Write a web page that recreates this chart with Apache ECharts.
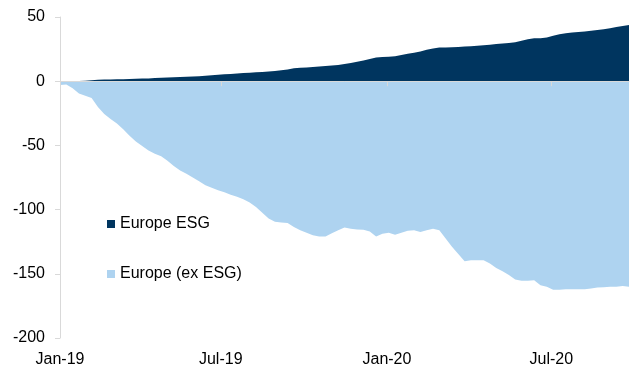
<!DOCTYPE html>
<html>
<head>
<meta charset="utf-8">
<script src="https://cdn.jsdelivr.net/npm/echarts@6/dist/echarts.min.js"></script>
<style>
  html, body { margin: 0; padding: 0; background: #fff; }
  #chart { width: 631px; height: 368px; }
</style>
</head>
<body>
<div id="chart"></div>
<script>
// Weekly observations, first Friday of 2019 onwards
const firstWeek = '2019-01-04';
const weekCount = 91;

// Cumulative flows (EUR bn)
const europeEsg = [
  0, 0, 0, 0.2, 0.4, 0.8, 1.2, 1.3, 1.4, 1.5,
  1.6, 1.8, 1.9, 2.1, 2.2, 2.4, 2.6, 2.9, 3.1, 3.3,
  3.5, 3.7, 3.9, 4.2, 4.6, 5.0, 5.4, 5.7, 6.0, 6.3,
  6.6, 6.9, 7.2, 7.5, 7.9, 8.5, 9.2, 10.0, 10.4, 10.7,
  11.0, 11.4, 11.8, 12.2, 12.7, 13.3, 14.2, 15.2, 16.2, 17.3,
  18.4, 18.8, 19.1, 19.5, 20.4, 21.3, 22.2, 23.2, 24.4, 25.5,
  26.2, 26.3, 26.5, 26.7, 27.0, 27.3, 27.6, 28.0, 28.4, 28.9,
  29.4, 29.8, 30.3, 31.5, 32.7, 33.4, 33.5, 34.0, 35.3, 36.5,
  37.4, 37.9, 38.4, 38.8, 39.3, 39.9, 40.5, 41.3, 42.2, 43.0,
  43.7
];

const europeExEsg = [
  -3, -2.5, -5.5, -9.5, -11.4, -13, -20, -25.5, -29.5, -33,
  -37.5, -42.5, -47, -50.5, -54, -56.5, -58.5, -62, -66, -69.5,
  -72, -75, -78, -81, -83, -85, -86.5, -88.5, -90, -92,
  -94.5, -98, -102.5, -107, -109.5, -110, -110.5, -113.5, -116, -118,
  -120, -121, -121, -118.5, -116, -114, -115, -115.5, -115.7, -117,
  -121, -118.8, -118, -119.5, -118, -116.5, -116, -117.5, -116, -115,
  -116, -122.5, -129, -134.5, -140.3, -139.5, -139.5, -139.5, -142, -145.5,
  -148, -151, -154.5, -155.5, -155.5, -155, -159, -160, -162.5, -162.5,
  -162, -162, -162, -162, -161.5, -160.7, -160.5, -160, -160, -159.5,
  -160
];

const seriesNames = ['Europe ESG', 'Europe (ex ESG)'];
const seriesColors = ['#00355F', '#AED3F0'];

// Axis marks
const xTickDates = ['2019-07-01', '2020-01-01', '2020-07-01'];
const yTicks = [-200, -150, -100, -50, 0, 50];
const monthNames = ['Jan','Feb','Mar','Apr','May','Jun','Jul','Aug','Sep','Oct','Nov','Dec'];

const DAY = 86400000;
const toTime = s => {
  const [y, m, d] = s.split('-').map(Number);
  return Date.UTC(y, m - 1, d);
};
const t0 = toTime(firstWeek);
const weeks = Array.from({ length: weekCount }, (_, i) => t0 + i * 7 * DAY);
const tLast = weeks[weeks.length - 1];
const tickTimes = xTickDates.map(toTime);
const labelTimes = [t0].concat(tickTimes);

const fmtMonth = v => {
  const d = new Date(v);
  return monthNames[d.getUTCMonth()] + '-' + String(d.getUTCFullYear()).slice(2);
};

const FONT = '"Liberation Sans", Arial, sans-serif';
const AXIS_GREY = '#D9D9D9';

const chart = echarts.init(document.getElementById('chart'), null, { renderer: 'canvas' });

chart.setOption({
  animation: false,
  backgroundColor: '#fff',
  textStyle: { fontFamily: FONT },
  grid: { left: 60, right: 2, top: 17, bottom: 29, containLabel: false },
  legend: {
    orient: 'vertical',
    left: 102,
    top: 210,
    itemWidth: 8,
    itemHeight: 8,
    itemGap: 32,
    icon: 'rect',
    selectedMode: false,
    textStyle: { fontFamily: FONT, fontSize: 16, color: '#000', lineHeight: 18 },
    data: seriesNames
  },
  xAxis: [
    {
      // zero line with half-year ticks
      type: 'value',
      min: t0,
      max: tLast,
      position: 'bottom',
      z: 5,
      axisLine: { show: true, onZero: true, lineStyle: { color: AXIS_GREY, width: 1 } },
      axisTick: { show: true, length: 5, customValues: tickTimes, lineStyle: { color: AXIS_GREY } },
      axisLabel: { show: false, customValues: tickTimes },
      splitLine: { show: false }
    },
    {
      // date labels along the bottom edge
      type: 'value',
      min: t0,
      max: tLast,
      position: 'bottom',
      axisLine: { show: false, onZero: false },
      axisTick: { show: false },
      splitLine: { show: false },
      axisLabel: {
        show: true,
        customValues: labelTimes,
        formatter: v => fmtMonth(v),
        fontFamily: FONT,
        fontSize: 16,
        color: '#000',
        margin: 14
      }
    }
  ],
  yAxis: {
    type: 'value',
    min: yTicks[0],
    max: yTicks[yTicks.length - 1],
    interval: 50,
    z: 5,
    axisLine: { show: true, lineStyle: { color: AXIS_GREY, width: 1 } },
    axisTick: { show: true, length: 5, lineStyle: { color: AXIS_GREY } },
    splitLine: { show: false },
    axisLabel: { fontFamily: FONT, fontSize: 16, color: '#000', margin: 15 }
  },
  series: [
    {
      name: seriesNames[0],
      type: 'line',
      xAxisIndex: 0,
      data: weeks.map((t, i) => [t, europeEsg[i]]),
      showSymbol: false,
      symbol: 'none',
      color: seriesColors[0],
      lineStyle: { width: 0 },
      areaStyle: { color: seriesColors[0], opacity: 1 }
    },
    {
      name: seriesNames[1],
      type: 'line',
      xAxisIndex: 0,
      data: weeks.map((t, i) => [t, europeExEsg[i]]),
      showSymbol: false,
      symbol: 'none',
      color: seriesColors[1],
      lineStyle: { width: 0 },
      areaStyle: { color: seriesColors[1], opacity: 1 }
    }
  ]
});
</script>
</body>
</html>
